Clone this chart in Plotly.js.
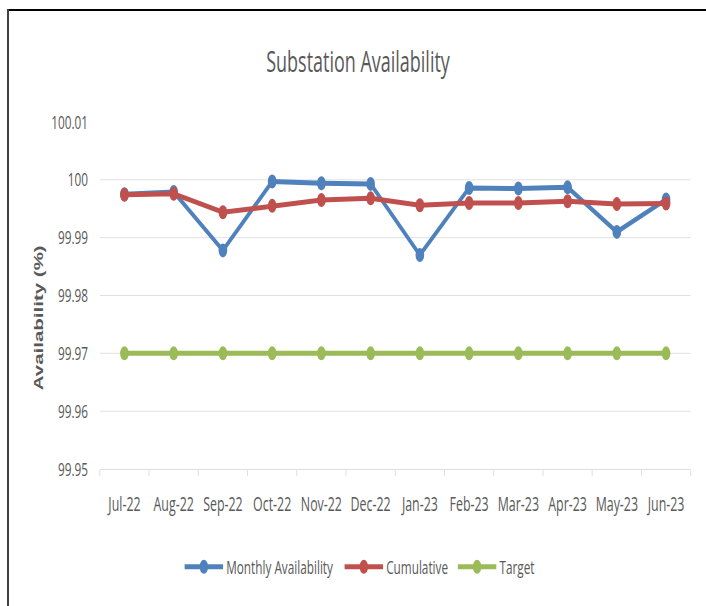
<!DOCTYPE html>
<html>
<head>
<meta charset="utf-8">
<script src="https://cdn.plot.ly/plotly-3.0.1.min.js"></script>
<style>
  html, body { margin: 0; padding: 0; width: 706px; height: 606px; overflow: hidden; background: #fff; }
  #wrap { position: absolute; left: 0; top: 0; width: 1139px; height: 606px; transform: scaleX(0.62); transform-origin: 0 0; }
  #chart { width: 1139px; height: 606px; }
  .bt { position: absolute; left: 8px; top: 9px; width: 698px; height: 2px; background: #000; }
  .bl { position: absolute; left: 7px; top: 9px; width: 2px; height: 597px; background: #404040; }
</style>
</head>
<body>
<div id="wrap"><div id="chart"></div></div>
<div class="bt"></div>
<div class="bl"></div>
<script>
const months = ["Jul-22","Aug-22","Sep-22","Oct-22","Nov-22","Dec-22","Jan-23","Feb-23","Mar-23","Apr-23","May-23","Jun-23"];
const monthlyAvailability = [99.9975, 99.9979, 99.9878, 99.9997, 99.9994, 99.9993, 99.9870, 99.9986, 99.9985, 99.9987, 99.9910, 99.9966];
const cumulative = [99.9974, 99.9976, 99.9944, 99.9955, 99.9965, 99.9968, 99.9956, 99.9960, 99.9960, 99.9963, 99.9958, 99.9959];
const target = [99.97, 99.97, 99.97, 99.97, 99.97, 99.97, 99.97, 99.97, 99.97, 99.97, 99.97, 99.97];
const yTicks = [99.95, 99.96, 99.97, 99.98, 99.99, 100, 100.01];
const yTickText = ["99.95", "99.96", "99.97", "99.98", "99.99", "100", "100.01"];

const FONT = "'Open Sans', 'Liberation Sans', sans-serif";
const GREY = "#595959";

function series(name, y, color, legendId) {
  return {
    type: "scatter", mode: "lines+markers", name: name, x: months, y: y,
    line: { color: color, width: 5 },
    marker: { color: color, size: 14, symbol: "circle" },
    legend: legendId
  };
}

const data = [
  series("Monthly Availability", monthlyAvailability, "#4f81bd", "legend"),
  series("Cumulative", cumulative, "#c0504d", "legend2"),
  series("Target", target, "#9bbb59", "legend3")
];

function leg(xpx) {
  return { orientation: "h", x: xpx / 1139, xref: "container", xanchor: "left",
           y: 1 - 567 / 606, yref: "container", yanchor: "middle",
           font: { family: FONT, size: 19, color: GREY }, itemwidth: 62,
           bgcolor: "rgba(0,0,0,0)" };
}

const plotLeft = 160.5, plotRight = 1114.5;

const layout = {
  width: 1139, height: 606,
  margin: { l: plotLeft, r: 1139 - plotRight, t: 122, b: 136.5 },
  paper_bgcolor: "#ffffff", plot_bgcolor: "#ffffff",
  font: { family: FONT, color: GREY, size: 19 },
  title: { text: "Substation Availability", x: 0.507, xref: "container", y: 0.898, yref: "container", yanchor: "middle", xanchor: "center",
           font: { family: FONT, size: 29, color: GREY } },
  xaxis: {
    type: "category", range: [-0.5, months.length - 0.5], autorange: false,
    showgrid: false, zeroline: false, automargin: false,
    showline: true, linecolor: "#d9d9d9", linewidth: 1,
    ticks: "outside", tickson: "boundaries", ticklen: 6, tickcolor: "#d9d9d9",
    tickangle: 0, ticklabelstandoff: 17,
    tickfont: { family: FONT, size: 20, color: GREY }
  },
  yaxis: {
    range: [99.95, 100.01], autorange: false, tickvals: yTicks, ticktext: yTickText, automargin: false,
    showgrid: true, gridcolor: "#d9d9d9", gridwidth: 1, zeroline: false, showline: false,
    ticks: "", ticklabelstandoff: 18,
    tickfont: { family: FONT, size: 19, color: GREY }
  },
  annotations: [{
    text: "Availability (%)", textangle: -90, showarrow: false,
    xref: "paper", x: (61 - plotLeft) / (plotRight - plotLeft), xanchor: "center",
    yref: "paper", y: (469.5 - 318) / 347.5, yanchor: "middle",
    font: { family: "'Liberation Sans', Arial, sans-serif", size: 20.5, color: GREY, weight: "bold" }
  }],
  showlegend: true,
  legend: leg(292.8),
  legend2: leg(550.8),
  legend3: leg(733.5),
  hovermode: false
};

Plotly.newPlot("chart", data, layout, { displayModeBar: false, staticPlot: true });
</script>
</body>
</html>
